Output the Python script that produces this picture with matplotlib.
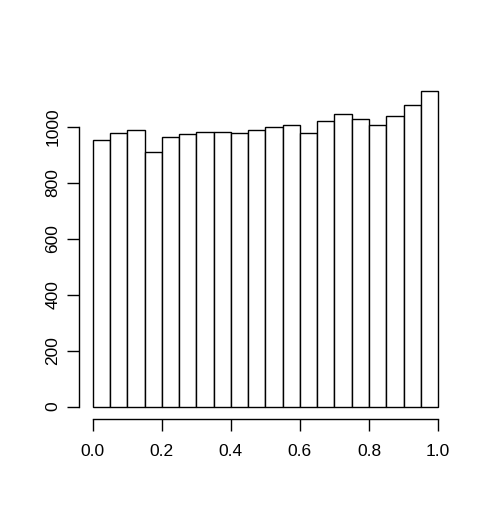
import numpy as np
import matplotlib
matplotlib.use("Agg")
import matplotlib.pyplot as plt

# bin edges and counts
bin_edges = [i / 20 for i in range(21)]
counts = [952, 976, 990, 909, 964, 973, 983, 982, 977, 990,
          998, 1006, 976, 1020, 1045, 1029, 1008, 1040, 1079, 1127]
x_ticks = [0.0, 0.2, 0.4, 0.6, 0.8, 1.0]
y_ticks = [0, 200, 400, 600, 800, 1000]

plt.rcParams["font.family"] = ["Liberation Sans", "DejaVu Sans"]

fig = plt.figure(figsize=(4.92, 5.17), dpi=100)
ax = fig.add_axes([0.1604, 0.189, 0.758, 0.659])

left = np.array(bin_edges[:-1])
widths = np.diff(bin_edges)
ax.bar(left, counts, width=widths, align="edge",
       facecolor="white", edgecolor="black", linewidth=1.0)

ax.set_xlim(-0.04, 1.04)
ax.set_ylim(-0.04 * max(counts), 1.04 * max(counts))

# R-style detached axes
for side in ["top", "right"]:
    ax.spines[side].set_visible(False)
ax.spines["left"].set_bounds(y_ticks[0], y_ticks[-1])
ax.spines["bottom"].set_bounds(x_ticks[0], x_ticks[-1])
ax.spines["left"].set_linewidth(1.0)
ax.spines["bottom"].set_linewidth(1.0)

ax.set_xticks(x_ticks)
ax.set_xticklabels([f"{t:.1f}" for t in x_ticks])
ax.set_yticks(y_ticks)
ax.set_yticklabels([str(t) for t in y_ticks], rotation=90, va="center")
ax.tick_params(direction="out", length=8.5, width=1.0, labelsize=12.5)
ax.tick_params(axis="x", pad=9)
ax.tick_params(axis="y", pad=5)

fig.savefig("out.png", dpi=100)
